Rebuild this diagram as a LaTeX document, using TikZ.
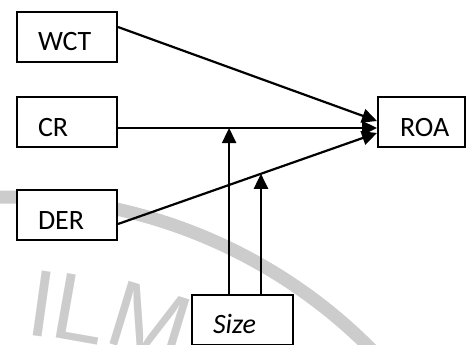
\documentclass[tikz,border=0pt]{standalone}
\usepackage{fontspec}
\setmainfont{Carlito}
\newfontfamily\wmfont{Liberation Sans}
\usetikzlibrary{arrows.meta}

\begin{document}
\begin{tikzpicture}[x=1pt, y=-1pt,
  var/.style={draw, fill=white, line width=2pt, inner ysep=0pt,
    text height=39pt, text depth=11pt, align=left,
    font=\fontsize{28}{32}\selectfont},
  link/.style={line width=2.2pt, -{Triangle[length=15pt,width=14pt]}},
  wmark/.style={text=gray!40, inner sep=0pt, font=\wmfont\fontsize{95}{95}\selectfont}]
%\draw [help lines] (0,0) grid (466,345);
\useasboundingbox (0,0) rectangle (466,345);

% watermark
\draw [gray!40, line width=13pt] (5.85,711.5) ++(95:514.5pt) arc [start angle=95, end angle=38, radius=514.5pt];
\node [wmark, rotate=-8] (wmi) at (42,304) {I};
\node [wmark, rotate=-10] (wml) at (80,309) {L};
\node [wmark, rotate=-17] (wmm) at (150,322) {M};

\node [var, text width=58pt, inner xsep=21pt] (wct) at (67,37) {WCT};
\node [var, text width=58pt, inner xsep=21pt] (cr) at (67,122) {CR};
\node [var, text width=58pt, inner xsep=21pt] (der) at (67,215) {DER};
\node [var, text width=43pt, inner xsep=22pt] (roa) at (421.5,122) {ROA};
\node [var, text width=59pt, inner xsep=21pt] (size) at (242.5,319.5) {\textit{Size}};

\draw [link] ([yshift=10pt]wct.east) -- ([yshift=1pt]roa.west);
\draw [link] ([yshift=-6pt]cr.east) -- coordinate[pos=.429] (crm) ([yshift=-6pt]roa.west);
\draw [link] ([yshift=-9pt]der.east) -- coordinate[pos=.552] (derm) ([yshift=-11pt]roa.west);

\draw [link] (size.north -| crm) -- (crm);
\draw [link] (size.north -| derm) -- (derm);

\end{tikzpicture}
\end{document}
